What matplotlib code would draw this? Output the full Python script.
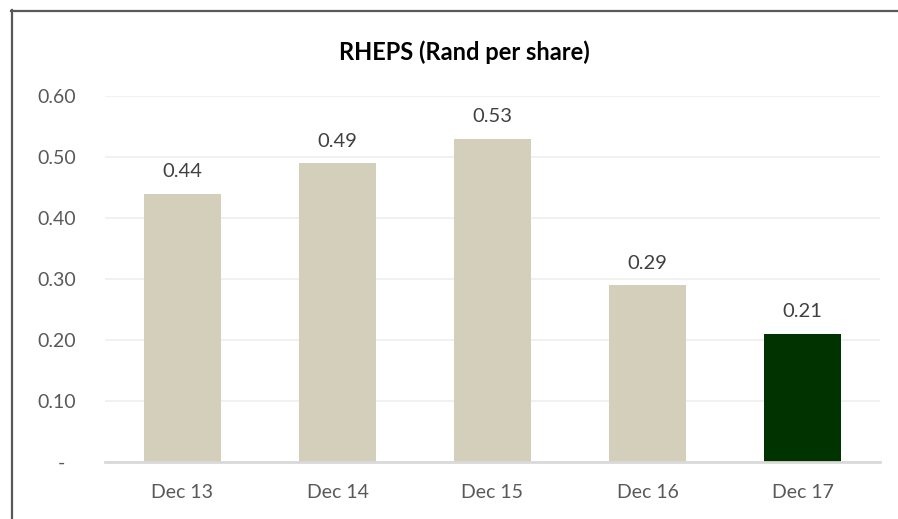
import matplotlib
matplotlib.use("Agg")
import matplotlib.pyplot as plt
from matplotlib.lines import Line2D

# RHEPS per year
periods = ["Dec 13", "Dec 14", "Dec 15", "Dec 16", "Dec 17"]
rheps = [0.44, 0.49, 0.53, 0.29, 0.21]
bar_colors = ["#D4CFBA", "#D4CFBA", "#D4CFBA", "#D4CFBA", "#003300"]
yticks = [0, 0.1, 0.2, 0.3, 0.4, 0.5, 0.6]
ytick_labels = ["-  ", "0.10", "0.20", "0.30", "0.40", "0.50", "0.60"]

plt.rcParams["font.family"] = ["Lato", "DejaVu Sans"]

fig = plt.figure(figsize=(8.98, 5.19), dpi=100)
ax = fig.add_axes([0.1169, 0.1098, 0.863, 0.7052])

x = range(len(periods))
bars = ax.bar(x, rheps, width=0.5, color=bar_colors, zorder=2)

for rect, v in zip(bars, rheps):
    ax.text(rect.get_x() + rect.get_width() / 2, v + 0.022, f"{v:.2f}",
            ha="center", va="bottom", fontsize=14.5, color="#404040")

ax.set_xlim(-0.5, len(periods) - 0.5)
ax.set_ylim(0, 0.6)
ax.set_xticks(list(x))
ax.set_xticklabels(periods)
ax.set_yticks(yticks)
ax.set_yticklabels(ytick_labels)
ax.tick_params(axis="both", length=0, labelsize=14, colors="#595959")
ax.tick_params(axis="x", pad=16)
ax.tick_params(axis="y", pad=21)

ax.grid(axis="y", color="#EFEFEF", linewidth=1.2, zorder=0)
for s in ["top", "right", "left"]:
    ax.spines[s].set_visible(False)
ax.spines["bottom"].set_color("#D9D9D9")
ax.spines["bottom"].set_linewidth(2)
ax.spines["bottom"].set_zorder(3)

fig.text(0.5175, 0.90, "RHEPS (Rand per share)", ha="center", va="center",
         fontsize=17, fontweight="bold", color="black")

# chart frame (top and left edges)
fig.add_artist(Line2D([11 / 898, 1], [1 - 10.5 / 519] * 2, color="#595959",
                      linewidth=1.6, transform=fig.transFigure))
fig.add_artist(Line2D([11.5 / 898] * 2, [0, 1 - 10 / 519], color="#595959",
                      linewidth=1.6, transform=fig.transFigure))

fig.savefig("out.png", dpi=100)
